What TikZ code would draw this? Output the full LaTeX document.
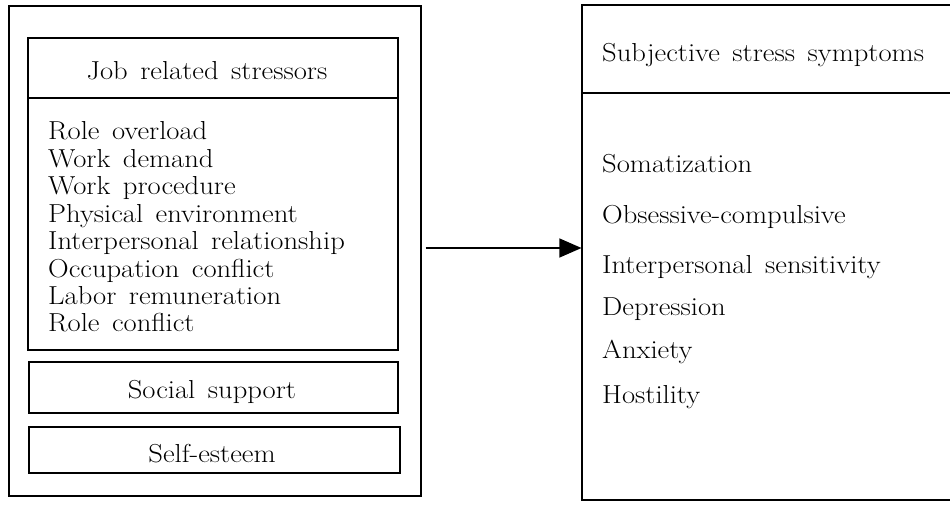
\documentclass[tikz,border=0pt]{standalone}
\usepackage{fontspec}
\setmainfont{Latin Modern Roman}[FakeStretch=1.1, WordSpace=1.45]
\usetikzlibrary{arrows.meta}
\tikzset{
  box/.style={draw, line width=1.1pt, rectangle, inner sep=0pt},
  txt/.style={inner sep=0pt, font=\fontsize{26}{31}\selectfont},
  conn/.style={line width=1.1pt, -{Triangle[length=22pt,width=19pt]}}
}
\begin{document}
\begin{tikzpicture}[x=1pt,y=-1pt]
\useasboundingbox (0,0) rectangle (950,505);
\clip (0,0) rectangle (950,505);
\fill[white] (0,0) rectangle (950,505);
% left group
\node[box, minimum width=412pt, minimum height=490pt] (outer) at (215,251) {};
\node[box, minimum width=370pt, minimum height=60pt] (jobhead) at (213,68) {};
\node[box, minimum width=370pt, minimum height=252pt] (joblist) at (213,224) {};
\node[box, minimum width=369pt, minimum height=51pt] (social) at (213.5,387.5) {};
\node[box, minimum width=371pt, minimum height=46pt] (esteem) at (214.5,450) {};
\node[txt, anchor=base] (jobtitle) at (207,80) {Job related stressors};
\foreach \t [count=\i from 0] in {Role overload, Work demand, Work procedure, Physical environment, Interpersonal relationship, Occupation conflict, Labor remuneration, Role conflict}
  \node[txt, anchor=base west] (l\i) at (48,{140+27.4*\i}) {\t};
\node[txt, anchor=base] (socialtxt) at (212,398) {Social support};
\node[txt, anchor=base] (esteemtxt) at (212,462) {Self-esteem};
% right group
\node[box, minimum width=380pt, minimum height=88pt] (rhead) at (772,49) {};
\node[box, minimum width=380pt, minimum height=407pt] (rbody) at (772,296.5) {};
\node[txt, anchor=base west] (rtitle) at (602,62) {Subjective stress symptoms};
\node[txt, anchor=base west] (r1) at (602,173) {Somatization};
\node[txt, anchor=base west] (r2) at (602,223) {Obsessive-compulsive};
\node[txt, anchor=base west] (r3) at (602,273) {Interpersonal sensitivity};
\node[txt, anchor=base west] (r4) at (602,315) {Depression};
\node[txt, anchor=base west] (r5) at (602,358) {Anxiety};
\node[txt, anchor=base west] (r6) at (602,403) {Hostility};
% connector
\draw[conn, shorten <=4pt] ([yshift=3pt]outer.east) -- ([yshift=3pt]outer.east -| rbody.west);
\end{tikzpicture}
\end{document}
